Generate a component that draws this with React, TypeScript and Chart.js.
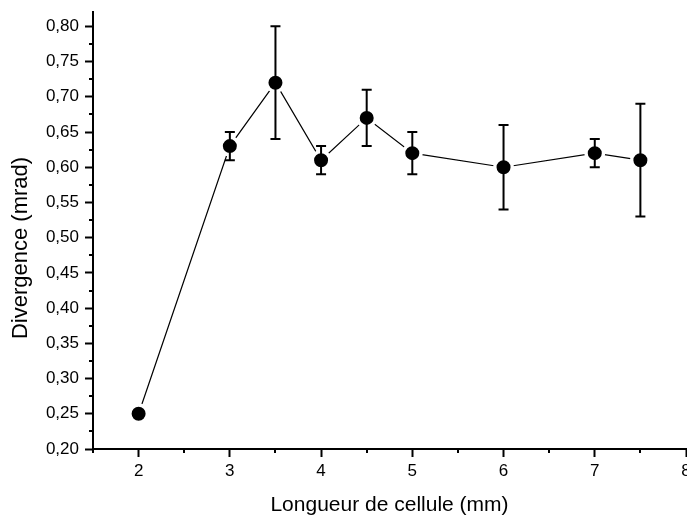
import React, { useEffect, useRef } from "react";
import { Chart, registerables } from "chart.js";

Chart.register(...registerables);

const lengths = [2, 3, 3.5, 4, 4.5, 5, 6, 7, 7.5];
const divergence = [0.25, 0.63, 0.72, 0.61, 0.67, 0.62, 0.6, 0.62, 0.61];
const errors = [0, 0.02, 0.08, 0.02, 0.04, 0.03, 0.06, 0.02, 0.08];

const xTicks = [2, 3, 4, 5, 6, 7, 8];
const xMinorTicks = [1.5, 2.5, 3.5, 4.5, 5.5, 6.5, 7.5];
const yTicks = [0.2, 0.25, 0.3, 0.35, 0.4, 0.45, 0.5, 0.55, 0.6, 0.65, 0.7, 0.75, 0.8];
const yMinorTicks = [0.225, 0.275, 0.325, 0.375, 0.425, 0.475, 0.525, 0.575, 0.625, 0.675, 0.725, 0.775];

const xTitle = "Longueur de cellule (mm)";
const yTitle = "Divergence (mrad)";

const FONT = "'Liberation Sans', Arial, sans-serif";

const errorBarPlugin = {
  id: "errorBars",
  afterDatasetsDraw(chart: any) {
    const { ctx, scales } = chart;
    const xs = scales.x;
    const ys = scales.y;
    ctx.save();
    ctx.strokeStyle = "#000";
    ctx.lineWidth = 2;
    lengths.forEach((xv, i) => {
      const e = errors[i];
      if (!e) return;
      const px = xs.getPixelForValue(xv);
      const top = ys.getPixelForValue(divergence[i] + e);
      const bot = ys.getPixelForValue(divergence[i] - e);
      ctx.beginPath();
      ctx.moveTo(px, top);
      ctx.lineTo(px, bot);
      ctx.moveTo(px - 5, top);
      ctx.lineTo(px + 5, top);
      ctx.moveTo(px - 5, bot);
      ctx.lineTo(px + 5, bot);
      ctx.stroke();
    });
    ctx.restore();
  },
};

const minorTickPlugin = {
  id: "minorTicks",
  afterDraw(chart: any) {
    const { ctx, scales, chartArea } = chart;
    ctx.save();
    ctx.strokeStyle = "#000";
    ctx.lineWidth = 2;
    ctx.beginPath();
    xMinorTicks.forEach((v) => {
      const px = Math.round(scales.x.getPixelForValue(v));
      ctx.moveTo(px, chartArea.bottom);
      ctx.lineTo(px, chartArea.bottom + 4);
    });
    yMinorTicks.forEach((v) => {
      const py = Math.round(scales.y.getPixelForValue(v));
      ctx.moveTo(chartArea.left - 4, py);
      ctx.lineTo(chartArea.left, py);
    });
    ctx.stroke();

    // y-axis title (placed like the original, slightly below the axis centre)
    ctx.translate(21, 248);
    ctx.rotate(-Math.PI / 2);
    ctx.fillStyle = "#000";
    ctx.font = `22px ${FONT}`;
    ctx.textAlign = "center";
    ctx.textBaseline = "middle";
    ctx.fillText(yTitle, 0, 0);
    ctx.restore();
  },
};

export default function App() {
  const ref = useRef<HTMLCanvasElement>(null);

  useEffect(() => {
    if (!ref.current) return;
    const chart = new Chart(ref.current, {
      type: "line",
      data: {
        datasets: [
          {
            data: lengths.map((x, i) => ({ x, y: divergence[i] })),
            borderColor: "#000",
            borderWidth: 1.2,
            backgroundColor: "#000",
            pointBackgroundColor: "#000",
            pointBorderColor: "#fff",
            pointBorderWidth: 3.5,
            pointRadius: 8.75,
            pointHoverRadius: 8.75,
            tension: 0,
            clip: false as any,
          },
        ],
      },
      options: {
        animation: false,
        responsive: false,
        maintainAspectRatio: false,
        layout: { padding: { top: 6, right: 34, bottom: 0, left: 0 } },
        plugins: {
          legend: { display: false },
          tooltip: { enabled: false },
          title: { display: false },
        },
        scales: {
          x: {
            type: "linear",
            min: 1.5,
            max: 8,
            afterBuildTicks: (s: any) => {
              s.ticks = xTicks.map((value) => ({ value }));
            },
            afterFit: (s: any) => {
              s.height = 70;
              s.paddingLeft = 0;
              s.paddingRight = 0;
            },
            grid: {
              drawOnChartArea: false,
              drawTicks: true,
              tickLength: 8,
              tickWidth: 2,
              tickColor: "#000",
              color: "#000",
            },
            border: { display: true, color: "#000", width: 2 },
            ticks: {
              color: "#000",
              padding: 4.5,
              maxRotation: 0,
              font: { family: FONT, size: 17 },
              callback: (v: any) => String(v),
            },
            title: {
              display: true,
              text: xTitle,
              color: "#000",
              font: { family: FONT, size: 21 },
              padding: { top: 0, bottom: 1.5 },
            },
          },
          y: {
            type: "linear",
            min: 0.2,
            max: 0.82,
            afterBuildTicks: (s: any) => {
              s.ticks = yTicks.map((value) => ({ value }));
            },
            afterFit: (s: any) => {
              s.width = 93;
              s.paddingTop = 0;
              s.paddingBottom = 0;
            },
            grid: {
              drawOnChartArea: false,
              drawTicks: true,
              tickLength: 8,
              tickWidth: 2,
              tickColor: "#000",
              color: "#000",
            },
            border: { display: true, color: "#000", width: 2 },
            ticks: {
              color: "#000",
              padding: 6,
              font: { family: FONT, size: 17 },
              callback: (v: any) => Number(v).toFixed(2).replace(".", ","),
            },
            title: { display: false },
          },
        },
      },
      plugins: [errorBarPlugin, minorTickPlugin],
    });
    return () => chart.destroy();
  }, []);

  return (
    <div
      style={{
        position: "fixed",
        left: 0,
        top: 0,
        width: 687,
        height: 519,
        overflow: "hidden",
        background: "#fff",
      }}
    >
      <canvas ref={ref} width={720} height={519} style={{ display: "block" }} />
    </div>
  );
}
